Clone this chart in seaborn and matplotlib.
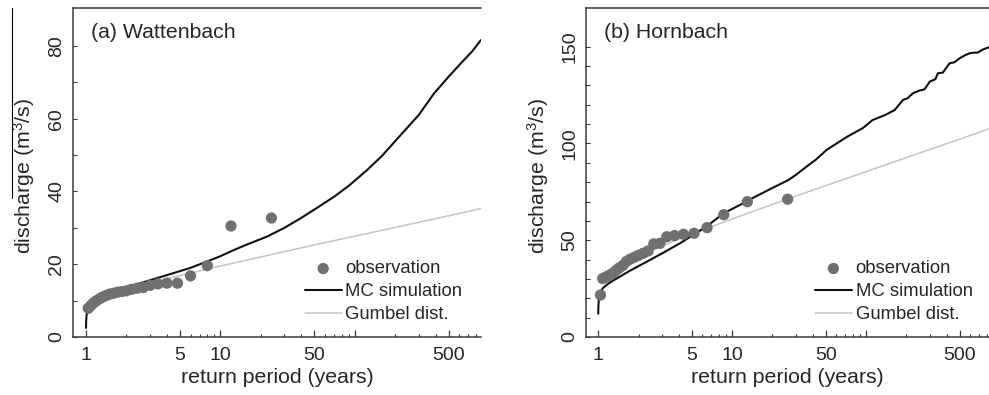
"""
Flood frequency curves for Wattenbach and Hornbach:
observed annual maxima vs. Monte Carlo simulation and Gumbel fit.
"""

import matplotlib
matplotlib.use("Agg")
import matplotlib.pyplot as plt
from matplotlib.lines import Line2D
from matplotlib.ticker import FixedLocator, FixedFormatter, NullFormatter
import seaborn as sns

# ==========================================
# DATA
# ==========================================
# (a) Wattenbach
wat_obs_T = [24, 12, 8, 6, 4.8, 4, 3.43, 3, 2.67, 2.4, 2.18, 2, 1.85, 1.71,
             1.6, 1.5, 1.41, 1.33, 1.26, 1.2, 1.14, 1.09, 1.04]
wat_obs_Q = [32.7, 30.5, 19.6, 16.8, 14.8, 14.8, 14.6, 14.2, 13.6, 13.4, 13.1,
             12.7, 12.5, 12.3, 12.0, 11.8, 11.4, 11.0, 10.5, 10.0, 9.4, 8.7, 7.9]

wat_mc_T = [1.0, 1.003, 1.01, 1.02, 1.04, 1.08, 1.15, 1.25, 1.4, 1.6, 1.8, 2.0,
            2.4, 3.0, 4.0, 5.0, 6.0, 7.9, 10, 12.6, 16, 22.3, 30, 39.5, 50, 70,
            90, 124, 160, 220, 300, 391, 500, 617, 750, 871]
wat_mc_Q = [2.5, 4.5, 6.0, 7.0, 7.8, 8.6, 9.6, 10.5, 11.3, 11.9, 12.4, 12.9,
            14.5, 15.6, 17.0, 18.1, 19.0, 20.7, 22.2, 23.9, 25.5, 27.6, 30.0,
            32.6, 35.0, 38.5, 41.5, 45.9, 49.8, 55.5, 61.0, 67.0, 71.5, 75.2,
            78.5, 81.6]

wat_gum_T = [1.2, 1.4, 1.7, 2, 2.5, 3, 4, 5, 7, 10, 20, 50, 100, 200, 500, 871]
wat_gum_Q = [9.6, 10.8, 12.0, 12.9, 13.95, 14.8, 16.0, 16.85, 18.15, 19.5,
             22.0, 25.3, 27.7, 30.1, 33.3, 35.3]

# (b) Hornbach
hor_obs_T = [26, 13, 8.67, 6.5, 5.2, 4.33, 3.71, 3.25, 2.89, 2.6, 2.36, 2.17,
             2.0, 1.86, 1.73, 1.625, 1.53, 1.44, 1.37, 1.3, 1.24, 1.18, 1.13,
             1.08, 1.04]
hor_obs_Q = [71.2, 69.9, 63.2, 56.5, 53.6, 53.1, 52.4, 51.8, 48.4, 48.1, 44.5,
             43.3, 42.2, 41.2, 40.2, 39.0, 37.0, 35.8, 34.6, 33.2, 32.3, 31.5,
             30.8, 30.2, 21.7]

hor_mc_T = [1.0, 1.003, 1.01, 1.04, 1.08, 1.15, 1.25, 1.45, 1.72, 2.3, 3.0,
            4.07, 5.1, 6.5, 8.6, 11.4, 15, 20, 26.3, 30, 35.9, 42, 50.7, 57,
            63.3, 72, 84.8, 95, 112, 126, 140, 164, 189, 205, 225, 250, 274,
            300, 330, 345, 375, 421, 460, 500, 550, 595, 640, 685, 750, 830]
hor_mc_Q = [12.0, 16.0, 19.5, 23.0, 25.2, 26.8, 28.6, 31.2, 34.2, 38.9, 43.2,
            48.4, 52.7, 57.3, 63.8, 68.2, 72.6, 77.0, 81.1, 83.8, 88.0, 91.5,
            96.6, 98.9, 100.9, 103.4, 106.1, 108.0, 112.1, 113.5, 114.8, 117.3,
            122.5, 123.4, 126.0, 127.3, 128.0, 132.0, 133.2, 136.3, 136.6,
            141.4, 142.0, 144.0, 145.6, 146.6, 146.9, 147.0, 148.6, 149.7]

hor_gum_T = [1.2, 1.4, 1.7, 2, 2.5, 3, 4, 5, 7, 10, 20, 50, 100, 200, 500, 830]
hor_gum_Q = [31.5, 35.3, 38.9, 41.4, 44.6, 47.0, 50.6, 53.2, 57.0, 61.0, 68.5,
             78.2, 85.4, 92.7, 102.2, 107.6]

PANELS = [
    dict(title="(a) Wattenbach", obs_T=wat_obs_T, obs_Q=wat_obs_Q,
         mc_T=wat_mc_T, mc_Q=wat_mc_Q, gum_T=wat_gum_T, gum_Q=wat_gum_Q,
         xlim=(0.80, 871), ylim=(0, 90.4), ymajor=[0, 20, 40, 60, 80],
         yminor=[10, 30, 50, 70]),
    dict(title="(b) Hornbach", obs_T=hor_obs_T, obs_Q=hor_obs_Q,
         mc_T=hor_mc_T, mc_Q=hor_mc_Q, gum_T=hor_gum_T, gum_Q=hor_gum_Q,
         xlim=(0.81, 830), ylim=(0, 170), ymajor=[0, 50, 100, 150],
         yminor=[10, 20, 30, 40, 60, 70, 80, 90, 110, 120, 130, 140]),
]

X_MAJOR = [1, 5, 10, 50, 100, 500]
X_LABELS = ["1", "5", "10", "50", "", "500"]
X_MINOR = [2, 3, 4, 6, 7, 8, 9, 20, 30, 40, 60, 70, 80, 90,
           200, 300, 400, 600, 700, 800]

OBS_COLOR = "#707070"
MC_COLOR = "#111111"
GUM_COLOR = "#c4c4c4"
AX_COLOR = "#3c3c3c"


def main():
    sns.set_theme(style="ticks")
    plt.rcParams["font.family"] = ["Liberation Sans", "DejaVu Sans"]
    plt.rcParams["mathtext.default"] = "regular"

    fig = plt.figure(figsize=(9.89, 3.95), dpi=100)
    boxes = [[0.0738, 0.1468, 0.4125, 0.833],
             [0.5925, 0.1468, 0.4075, 0.833]]

    for box, p in zip(boxes, PANELS):
        ax = fig.add_axes(box)

        sns.lineplot(x=p["gum_T"], y=p["gum_Q"], ax=ax, color=GUM_COLOR,
                     lw=1.1, estimator=None, sort=False, label="Gumbel dist.")
        sns.lineplot(x=p["mc_T"], y=p["mc_Q"], ax=ax, color=MC_COLOR,
                     lw=1.5, estimator=None, sort=False, label="MC simulation")
        sns.scatterplot(x=p["obs_T"], y=p["obs_Q"], ax=ax, color=OBS_COLOR,
                        s=66, edgecolor="none", zorder=3, label="observation")

        ax.set_xscale("log")
        ax.set_xlim(*p["xlim"])
        ax.set_ylim(*p["ylim"])

        ax.xaxis.set_major_locator(FixedLocator(X_MAJOR))
        ax.xaxis.set_major_formatter(FixedFormatter(X_LABELS))
        ax.xaxis.set_minor_locator(FixedLocator(X_MINOR))
        ax.xaxis.set_minor_formatter(NullFormatter())
        ax.yaxis.set_major_locator(FixedLocator(p["ymajor"]))
        ax.yaxis.set_minor_locator(FixedLocator(p["yminor"]))

        ax.tick_params(axis="x", which="major", direction="in", length=4.8,
                       width=0.9, color=AX_COLOR, labelsize=14, pad=7)
        ax.tick_params(axis="x", which="minor", direction="in", length=2.4,
                       width=0.8, color=AX_COLOR)
        ax.tick_params(axis="y", which="both", direction="in", length=2.9,
                       width=0.8, color=AX_COLOR, labelsize=14, pad=5.5,
                       labelrotation=90)
        for lab in ax.get_yticklabels():
            lab.set_va("center")

        for side in ["left", "bottom", "top"]:
            ax.spines[side].set_color(AX_COLOR)
            ax.spines[side].set_linewidth(1.1)
        ax.spines["right"].set_visible(False)

        ax.set_xlabel("return period (years)", fontsize=15.3)
        ax.set_ylabel("discharge (m$^3$/s)", fontsize=15.3)
        ax.xaxis.set_label_coords(0.5, -0.093)
        ax.xaxis.label.set_va("top")
        ax.yaxis.set_label_coords(-0.088, 0.49)

        ax.text(0.045, 0.91, p["title"], transform=ax.transAxes,
                fontsize=15.3, va="baseline", ha="left")

        handles, labels = ax.get_legend_handles_labels()
        order = [labels.index(n) for n in
                 ["observation", "MC simulation", "Gumbel dist."]]
        ax.legend([handles[i] for i in order], [labels[i] for i in order],
                  loc="lower left", bbox_to_anchor=(0.568, 0.042),
                  frameon=False, fontsize=13.3, handlelength=2.0,
                  handletextpad=0.2, labelspacing=0.32, borderpad=0,
                  borderaxespad=0)

    # stray vertical rule at the far left of the original figure
    fig.add_artist(Line2D([11.5 / 989, 11.5 / 989], [1 - 8 / 395, 1 - 198 / 395],
                          color="black", lw=0.8))

    fig.savefig("out.png", dpi=100)


if __name__ == "__main__":
    main()
